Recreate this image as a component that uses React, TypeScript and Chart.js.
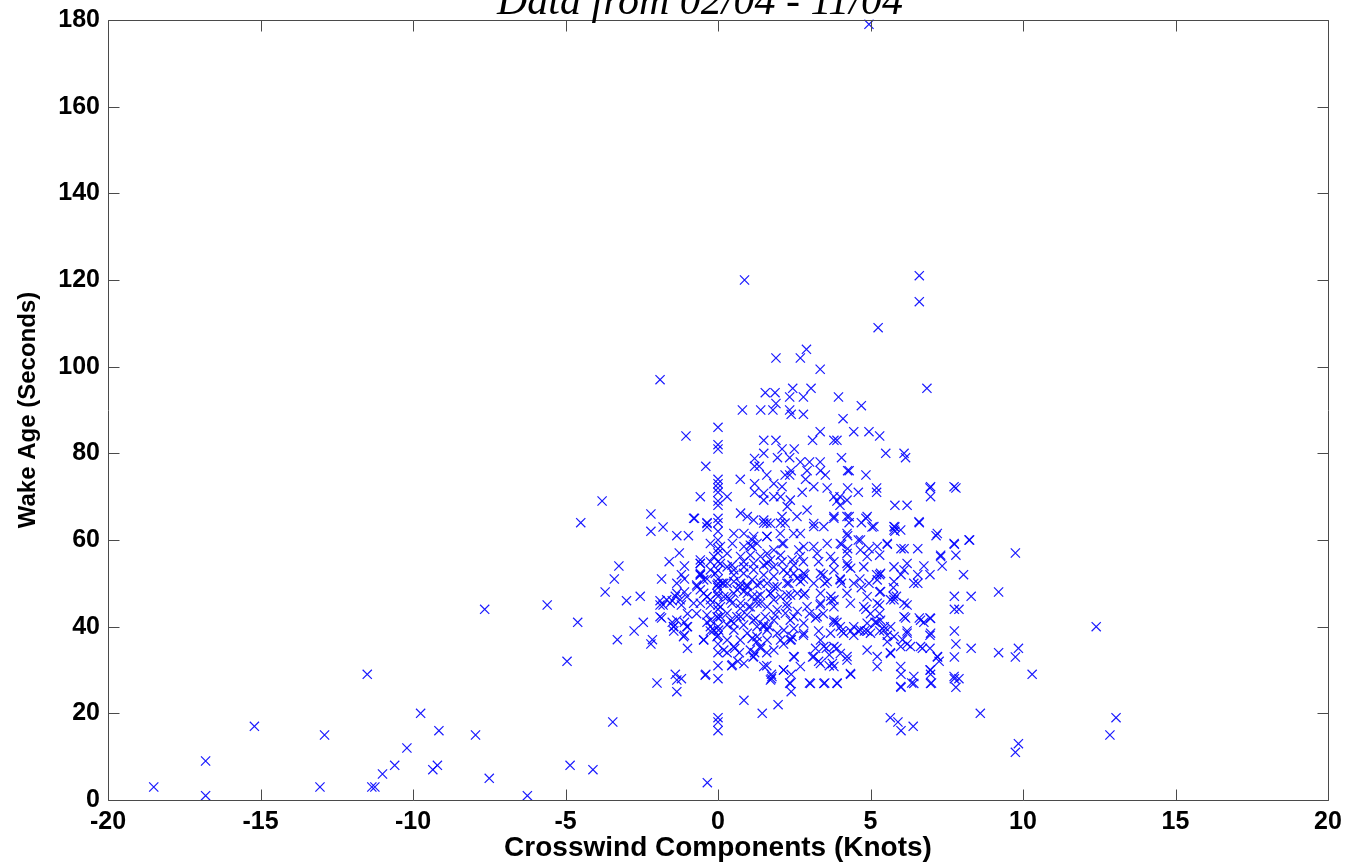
import React, { useEffect, useRef } from "react";
import { Chart, registerables } from "chart.js";

Chart.register(...registerables);

const TITLE = "Data from 02/04 - 11/04";
const X_LABEL = "Crosswind Components (Knots)";
const Y_LABEL = "Wake Age (Seconds)";
const X_MIN = -20;
const X_MAX = 20;
const X_STEP = 5;
const Y_MIN = 0;
const Y_MAX = 180;
const Y_STEP = 20;

// [crosswind (knots), wake age (s)]
const tailLeft: [number, number][] = [
  [-18.5, 3], [-16.8, 9], [-16.8, 1], [-15.2, 17], [-13.05, 3], [-12.9, 15], [-11.5, 29],
  [-11.35, 3], [-11.25, 3], [-11.0, 6], [-10.6, 8], [-10.2, 12], [-9.75, 20], [-9.35, 7],
  [-9.2, 8], [-9.15, 16], [-7.95, 15], [-7.65, 44], [-7.5, 5], [-6.25, 1], [-5.6, 45],
  [-4.95, 32], [-4.85, 8], [-4.6, 41], [-4.5, 64], [-4.1, 7], [-3.8, 69], [-3.7, 48],
  [-3.45, 18], [-3.4, 51], [-3.3, 37], [-3.25, 54], [-3.0, 46],
];

const westSide: [number, number][] = [
  [-1.9, 97], [-2.55, 47], [-2.45, 41], [-2.75, 39], [-2.2, 66], [-2.2, 62], [-1.8, 63],
  [-2.0, 27], [-1.85, 51], [-1.9, 46], [-1.9, 45], [-1.8, 45], [-1.6, 55], [-1.1, 54],
  [-2.15, 37], [-2.2, 36], [-1.85, 42], [-1.5, 41], [-1.45, 40], [-1.45, 39], [-1.0, 40],
  [-1.1, 38], [-1.0, 35], [-1.4, 29], [-1.2, 28], [-1.35, 25], [-0.4, 29], [-1.05, 84],
  [-0.4, 77], [-0.58, 70], [-1.27, 57], [-1.35, 61], [-0.97, 61], [-0.77, 65], [-0.36, 64],
  [-0.36, 63], [-0.35, 4], [-1.2, 52], [-1.1, 51], [-1.35, 50], [-1.1, 48], [-1.2, 45],
  [-1.4, 47], [-1.5, 46], [-1.0, 43], [-1.1, 41], [-1.35, 41.5], [-0.7, 49.6], [-0.58, 52],
  [-0.47, 47.7], [-0.58, 45.4], [-0.7, 43], [-0.36, 41], [-0.47, 37], [-0.25, 39],
  [-0.58, 54.6], [-0.36, 51], [-1.68, 46.2], [-1.57, 45.4], [-1.24, 46.2], [-0.8, 45.4],
  [-1.9, 42.3], [-1.13, 37.7], [-0.47, 36.9], [-1.35, 27.7], [-0.42, 28.8], [-0.8, 65],
  [-0.69, 49.2], [-0.58, 55.4], [-0.58, 48.5], [-0.36, 46.9], [-1.35, 47.7], [-1.02, 46.9],
  [-1.46, 40], [-1.02, 40],
];

const calmColumn: [number, number][] = [
  [0, 86], [0, 82], [0, 81], [0, 74], [0, 73], [0, 72], [0, 71], [0, 69], [0, 68], [0, 65],
  [0, 64], [0, 62], [0, 60], [0, 58], [0, 57], [0, 55], [0, 53], [0, 51], [0, 50], [0, 49],
  [0, 47], [0, 45], [0, 44], [0, 42], [0, 40], [0, 38], [0, 36], [0, 34], [0, 31], [0, 28],
  [0, 19], [0, 18], [0, 16],
];

const coreRows: [number, number][] = [
  [-0.25, 59.2], [0.08, 58.5], [0.47, 59.2], [0.85, 58.5], [1.12, 58.5], [1.28, 59.2], [1.61, 56.9],
  [1.83, 57.7], [2.15, 59.2], [2.65, 57.7], [2.81, 58.5], [3.14, 58.5], [3.58, 59.2], [4.01, 59.2],
  [-0.14, 56.2], [0.3, 56.9], [0.74, 56.2], [1.06, 56.5], [1.39, 56.2], [1.72, 55.4], [2.05, 56.5],
  [2.43, 55.4], [2.7, 56.2], [3.25, 56.9], [3.69, 56.2], [4.23, 56.9], [4.67, 57.7], [4.89, 56.2],
  [5.22, 58.5], [5.55, 59.2],
  [-0.58, 52.3], [-0.25, 53.1], [0.3, 53.8], [0.52, 53.1], [0.85, 53.8], [1.17, 53.1], [1.5, 54.2],
  [1.83, 53.8], [2.15, 53.1], [2.48, 52.3], [2.81, 52.3], [3.36, 52.3], [3.8, 53.1], [4.23, 54.6],
  [4.78, 53.8], [5.33, 52.3], [5.77, 53.8], [6.1, 53.1],
  [-0.47, 50.8], [0.19, 50], [0.52, 50.4], [0.74, 50], [0.96, 49.2], [1.39, 50], [1.83, 49.2],
  [2.26, 50], [2.7, 50.4], [3.14, 50], [3.58, 50.4], [4.01, 50.8], [4.45, 50], [5.22, 50.8],
  [5.77, 50.4], [6.42, 50],
  [0.3, 46.9], [0.63, 48.5], [0.96, 47.7], [1.28, 46.9], [1.72, 47.7], [2.26, 47.3], [2.81, 47.3],
  [3.36, 47.7], [3.8, 46.2], [4.23, 47.7], [4.89, 46.9], [5.33, 48.1], [5.77, 46.2],
  [-0.25, 46.2], [0.41, 46.2], [0.74, 45.4], [1.06, 44.6], [1.39, 45.4], [1.83, 46.2], [2.26, 45.4],
  [2.92, 44.6], [3.36, 45.4], [3.8, 44.6], [4.34, 45.4], [4.78, 44.6], [5.22, 45.4], [5.66, 46.2],
  [6.1, 45.4],
  [-0.25, 41.5], [0.08, 42.3], [0.41, 41.5], [0.74, 42.3], [1.17, 41.5], [1.5, 40], [1.83, 41.5],
  [2.37, 41.5], [2.81, 40.8], [3.25, 42.3], [3.8, 41.5], [4.01, 40], [4.45, 40], [4.89, 40.8],
  [5.33, 41.5], [5.66, 40], [6.1, 42.3], [6.64, 41.5], [6.97, 41.9],
  [-0.14, 39.2], [0.52, 39.2], [0.96, 38.5], [1.28, 37.7], [1.61, 39.2], [1.94, 38.5], [2.37, 36.9],
  [2.81, 38.5], [3.36, 36.9], [3.69, 38.5], [4.12, 38.5], [4.67, 39.2], [5.0, 38.5], [5.44, 39.2],
  [5.77, 37.7], [6.2, 38.5], [6.64, 35.4], [6.97, 38.5],
  [0.19, 34.6], [0.52, 35.4], [1.06, 34.6], [1.39, 35.4], [1.83, 34.6], [2.48, 33.1], [3.14, 33.1],
  [3.47, 35.4], [3.8, 35.4], [4.23, 33.1], [4.89, 34.6], [5.22, 33.1], [5.66, 33.8], [5.99, 35.4],
  [6.31, 35.4], [7.19, 33.1],
  [0.47, 31.2], [0.85, 31.5], [1.17, 33.1], [1.5, 30.8], [1.77, 28.5], [2.15, 30], [2.7, 30.8],
  [3.36, 31.5], [3.8, 30.8], [4.01, 33.8], [4.23, 32.3], [5.22, 30.8], [5.99, 30.8], [6.42, 28.5],
  [6.97, 30], [7.74, 28.5],
  [1.72, 27.7], [2.37, 26.9], [3.03, 26.9], [3.47, 26.9], [3.91, 26.9], [4.34, 29.2], [5.99, 26.2],
  [6.42, 26.9], [6.97, 26.9],
  [1.5, 69.2], [1.83, 70], [2.37, 69.2], [2.92, 66.9], [3.8, 70], [4.23, 69.2], [6.97, 72.3],
  [6.97, 70], [7.74, 72.3],
  [-0.36, 63.8], [0.74, 66.2], [0.96, 65.4], [1.17, 64.6], [1.5, 64.6], [1.72, 63.8], [2.1, 65.4],
  [2.59, 65.4], [3.14, 63.8], [3.8, 65.4], [4.23, 65.4], [4.89, 65.4], [5.11, 63.1], [5.77, 63.1],
  [5.77, 62.3], [6.59, 64.2], [7.19, 61.5],
  [0.52, 61.5], [0.85, 61.5], [1.17, 60.8], [1.61, 60.8], [2.04, 61.5], [2.7, 61.5], [3.14, 63.1],
  [3.47, 63.1], [4.23, 61.5], [4.67, 60], [5.99, 62.3], [7.74, 59.2], [8.23, 60],
];

const coreDense: [number, number][] = [
  [-0.58, 54.6], [-0.25, 55.0], [0.08, 54.6], [0.46, 54.2], [0.84, 55.0], [1.17, 54.6], [1.61, 54.6],
  [2.1, 55.0], [2.49, 54.2],
  [-0.58, 51.9], [-0.09, 52.3], [0.13, 50.0], [0.52, 51.9], [0.84, 52.3], [1.12, 50.8], [1.5, 51.9],
  [1.83, 51.6], [2.27, 52.3], [2.6, 51.2],
  [-0.03, 49.6], [0.3, 50.0], [0.73, 49.2], [0.95, 49.6], [1.28, 49.6], [1.61, 50.0], [1.94, 49.2],
  [2.32, 50.0],
  [-0.36, 46.9], [-0.03, 47.7], [0.19, 46.9], [0.52, 47.7], [0.84, 48.1], [1.12, 46.9], [1.39, 47.3],
  [1.72, 47.7], [2.05, 46.9], [2.38, 47.3], [2.6, 47.7],
  [-0.25, 45.0], [0.08, 44.6], [0.46, 45.4], [0.73, 44.2], [1.01, 44.6], [1.28, 45.4], [1.61, 44.6],
  [1.94, 43.9], [2.27, 44.6], [2.6, 43.5],
  [-0.36, 42.7], [-0.03, 42.3], [0.3, 43.1], [0.62, 42.3], [0.95, 42.7], [1.23, 41.9], [1.55, 42.3],
  [1.88, 42.7], [2.21, 43.1], [2.49, 42.3],
  [-0.25, 40.0], [0.02, 39.2], [0.3, 40.4], [0.52, 40.8], [0.84, 40.4], [1.28, 40.0], [1.5, 40.4],
  [1.67, 40.0], [2.16, 39.2], [2.49, 39.6],
  [-0.03, 37.7], [0.3, 36.9], [0.73, 36.9], [1.12, 37.3], [1.28, 36.6], [1.61, 36.9], [2.05, 36.9],
  [2.43, 37.7],
  [1.5, 63.9], [1.6, 63.9], [2.05, 63.9], [2.2, 63.9], [1.12, 60], [1.06, 58.8], [1.6, 60.8],
  [2.1, 59.2], [2.48, 61.5], [2.27, 67.7],
  [0.85, 23], [1.45, 20], [1.97, 22], [1.6, 31], [1.75, 29], [1.75, 28], [2.15, 30], [2.4, 29],
  [2.35, 27], [2.4, 25], [2.5, 33], [0.3, 34], [0.55, 35], [0.7, 34], [1.15, 33], [1.2, 34],
  [1.6, 34], [1.4, 35], [2.15, 36], [2.4, 37], [0.45, 31], [0.65, 32],
];

const upperCluster: [number, number][] = [
  [4.95, 179], [6.6, 121], [6.6, 115], [0.87, 120], [5.25, 109], [2.9, 104], [2.7, 102], [1.9, 102],
  [3.35, 99.4], [6.85, 95], [3.05, 95], [2.45, 95], [0.8, 90], [1.4, 90], [1.55, 94], [1.87, 94],
  [1.9, 91.5], [1.8, 90], [2.35, 90], [2.4, 89], [2.35, 93], [1.5, 83], [1.9, 83], [2.1, 81],
  [2.5, 81], [1.5, 80], [1.2, 78.8], [1.95, 79], [2.35, 79], [2.4, 76], [1.2, 77], [1.35, 77],
  [1.6, 75], [2.2, 75], [2.35, 75], [0.73, 74], [0.3, 70], [1.2, 73], [1.2, 71], [1.5, 70.8],
  [2.1, 72.3], [2.05, 70], [1.83, 73], [2.8, 93], [3.95, 93], [4.7, 91], [2.8, 89], [4.1, 88],
  [3.35, 85], [3.1, 83], [4.45, 85], [4.95, 85], [5.3, 84], [3.8, 83], [3.9, 83], [4.05, 79],
  [5.5, 80], [6.1, 80], [6.15, 79], [2.7, 78], [3.0, 78], [3.35, 78], [4.25, 76], [4.3, 76],
  [4.85, 75], [4.25, 72], [4.6, 71], [5.2, 72], [5.2, 71], [6.95, 72], [7.8, 72], [2.87, 74],
  [3.58, 72], [2.76, 71], [3.14, 72.3], [2.92, 76], [3.36, 76], [3.52, 75],
];

const eastSide: [number, number][] = [
  [5.8, 68], [6.2, 68], [4.0, 70], [3.9, 69], [4.0, 68], [3.8, 65], [4.3, 65.4], [4.3, 64],
  [4.7, 64], [4.85, 65], [5.05, 63], [5.8, 63], [5.8, 62], [6.6, 64], [7.15, 61], [7.75, 59],
  [8.25, 60], [4.25, 61], [4.6, 60], [4.05, 59], [4.25, 58], [4.95, 58], [5.55, 59], [6.0, 58],
  [6.1, 58], [6.55, 58], [7.3, 56.5], [7.8, 56.5], [5.3, 56.5],
  [6.6, 42], [6.75, 41], [6.95, 42], [6.15, 42], [6.2, 39], [6.05, 37], [6.2, 36], [5.75, 49],
  [6.0, 52], [6.2, 54.6], [5.2, 52], [5.3, 52], [6.55, 50], [6.55, 52], [6.95, 52], [6.75, 54],
  [7.35, 54], [5.75, 47], [5.85, 47], [6.2, 45], [5.3, 48], [5.3, 45], [5.3, 43], [5.2, 41],
  [5.45, 40], [5.55, 38], [3.1, 33], [3.3, 32], [3.65, 31], [3.75, 31.5], [3.2, 35], [3.55, 35],
  [3.65, 33.5], [3.9, 35], [2.8, 38], [3.3, 39], [2.85, 47.7], [2.8, 51], [2.85, 52], [3.45, 52],
  [3.5, 50], [4.0, 51], [4.05, 50], [4.65, 51], [4.7, 49], [4.95, 50], [3.7, 47], [3.7, 46],
  [3.35, 45], [3.0, 43], [3.2, 42], [3.45, 43], [3.8, 41], [3.9, 41], [4.05, 39], [4.35, 39],
  [4.45, 38], [4.6, 39], [4.8, 39], [4.9, 39], [5.15, 41], [5.0, 43], [4.85, 44], [5.3, 39],
  [5.55, 36.5], [5.65, 34], [2.8, 55], [3.3, 55], [3.8, 55], [4.25, 54], [4.35, 53.5],
  [6.95, 38], [6.95, 35], [6.7, 35], [7.2, 33], [6.0, 29], [6.0, 26], [6.35, 27], [4.35, 29],
  [3.0, 27], [3.5, 27], [3.9, 27], [5.65, 19], [5.9, 18], [6.0, 16], [6.4, 17],
];

const farEast: [number, number][] = [
  [8.05, 52], [7.75, 47], [8.3, 47], [9.2, 48], [7.75, 44], [7.9, 44], [7.75, 39], [7.8, 36],
  [8.3, 35], [7.75, 33], [9.2, 34], [7.25, 32], [6.95, 30], [6.97, 29], [7.0, 27], [7.75, 28],
  [7.9, 28], [7.8, 26], [8.6, 20], [9.75, 57], [12.4, 40], [9.85, 35], [9.75, 33], [10.3, 29],
  [13.05, 19], [12.85, 15], [9.85, 13], [9.75, 11], [7.3, 56.2],
];

const ALL_POINTS = [
  ...tailLeft, ...westSide, ...calmColumn, ...coreRows, ...coreDense,
  ...upperCluster, ...eastSide, ...farEast,
];

const AXIS_COLOR = "#4a4a4a";
const SANS = "'Liberation Sans', Arial, Helvetica, sans-serif";
const TICK_LEN = 11;

const boxPlugin = {
  id: "matlabBox",
  afterDraw(chart: any) {
    const { ctx, chartArea, scales } = chart;
    const { left, right, top, bottom } = chartArea;
    const xs = scales.x;
    const ys = scales.y;
    ctx.save();
    ctx.strokeStyle = AXIS_COLOR;
    ctx.lineWidth = 1;
    ctx.beginPath();
    const l = Math.round(left) + 0.5;
    const r = Math.round(right) + 0.5;
    const t = Math.round(top) + 0.5;
    const b = Math.round(bottom) + 0.5;
    ctx.moveTo(l, t);
    ctx.lineTo(r, t);
    ctx.lineTo(r, b);
    ctx.lineTo(l, b);
    ctx.closePath();
    for (const tk of xs.ticks) {
      const px = Math.round(xs.getPixelForValue(tk.value)) + 0.5;
      ctx.moveTo(px, b);
      ctx.lineTo(px, b - TICK_LEN);
      ctx.moveTo(px, t);
      ctx.lineTo(px, t + TICK_LEN);
    }
    for (const tk of ys.ticks) {
      const py = Math.round(ys.getPixelForValue(tk.value)) + 0.5;
      ctx.moveTo(l, py);
      ctx.lineTo(l + TICK_LEN, py);
      ctx.moveTo(r, py);
      ctx.lineTo(r - TICK_LEN, py);
    }
    ctx.stroke();

    ctx.fillStyle = "#000";
    ctx.font = "italic 42px 'Liberation Serif', 'Times New Roman', serif";
    ctx.textAlign = "center";
    ctx.textBaseline = "alphabetic";
    ctx.fillText(TITLE, 700, 14);
    ctx.restore();
  },
};

export default function App() {
  const canvasRef = useRef<HTMLCanvasElement | null>(null);

  useEffect(() => {
    const canvas = canvasRef.current;
    if (!canvas) return;
    const chart = new Chart(canvas, {
      type: "scatter",
      data: {
        datasets: [
          {
            label: "Wake age",
            data: ALL_POINTS.map(([x, y]) => ({ x, y })),
            pointStyle: "crossRot",
            pointRadius: 6.5,
            pointHoverRadius: 6.5,
            borderWidth: 1.2,
            borderColor: "rgba(0,0,255,0.9)",
            backgroundColor: "rgba(0,0,255,0.9)",
            clip: false,
          } as any,
        ],
      },
      options: {
        responsive: false,
        animation: false,
        events: [],
        layout: { padding: { top: 20, right: 20, bottom: 0, left: 0 } },
        plugins: {
          legend: { display: false },
          tooltip: { enabled: false },
          title: { display: false },
        },
        scales: {
          x: {
            type: "linear",
            min: X_MIN,
            max: X_MAX,
            grid: { display: false },
            border: { display: false },
            ticks: {
              stepSize: X_STEP,
              color: "#000",
              padding: -1,
              font: { family: SANS, size: 25, weight: "bold" },
            },
            title: {
              display: true,
              text: X_LABEL,
              color: "#000",
              padding: { top: 0, bottom: 0 },
              font: { family: SANS, size: 28, weight: "bold" },
            },
            afterFit(scale: any) {
              scale.height = 65;
            },
          },
          y: {
            type: "linear",
            min: Y_MIN,
            max: Y_MAX,
            grid: { display: false },
            border: { display: false },
            ticks: {
              stepSize: Y_STEP,
              color: "#000",
              padding: 0,
              font: { family: SANS, size: 25, weight: "bold" },
            },
            title: {
              display: true,
              text: Y_LABEL,
              color: "#000",
              padding: { top: 14, bottom: 0 },
              font: { family: SANS, size: 24, weight: "bold" },
            },
            afterFit(scale: any) {
              scale.width = 108;
            },
          },
        },
      } as any,
      plugins: [boxPlugin],
    });
    return () => chart.destroy();
  }, []);

  return (
    <div style={{ position: "absolute", left: 0, top: 0, width: 1348, height: 865, background: "#fff" }}>
      <canvas ref={canvasRef} width={1348} height={865} />
    </div>
  );
}
